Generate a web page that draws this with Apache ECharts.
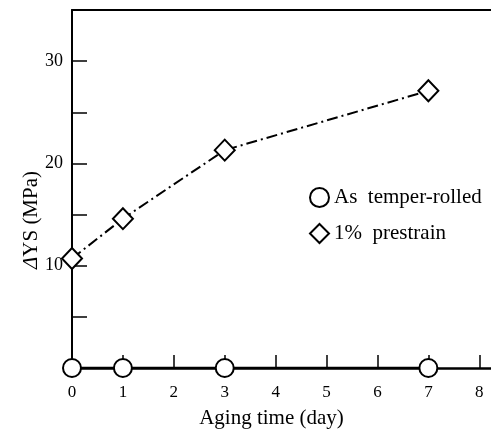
<!DOCTYPE html>
<html>
<head>
<meta charset="utf-8">
<script src="https://cdn.jsdelivr.net/npm/echarts@6/dist/echarts.min.js"></script>
<style>
  html, body { margin: 0; padding: 0; background: #fff; }
  #main { width: 491px; height: 432px; }
</style>
</head>
<body>
<div id="main"></div>
<script>
// data
var days = [0, 1, 3, 7];
var temperRolled = [0, 0, 0, 0];
var prestrain = [10.7, 14.6, 21.3, 27.1];
var xTicks = [0, 1, 2, 3, 4, 5, 6, 7, 8];
var yTicks = [5, 10, 15, 20, 25, 30];
var yLabels = [10, 20, 30];

var serif = 'Liberation Serif, DejaVu Serif, serif';

function pairs(xs, ys) {
  var out = [];
  for (var i = 0; i < xs.length; i++) out.push([xs[i], ys[i]]);
  return out;
}

var chart = echarts.init(document.getElementById('main'));
var option = {
  backgroundColor: '#fff',
  animation: false,
  textStyle: { fontFamily: serif, color: '#000' },
  grid: { left: 72, top: 10, right: 0, bottom: 64, outerBoundsMode: 'none' },
  legend: {
    orient: 'vertical',
    left: 304,
    top: 182,
    itemWidth: 19,
    itemHeight: 19,
    itemGap: 15,
    textStyle: { fontFamily: serif, fontSize: 21, color: '#000' },
    data: [
      { name: 'As  temper-rolled', icon: 'circle' },
      { name: '1%  prestrain', icon: 'diamond' }
    ]
  },
  xAxis: [{
    type: 'value',
    min: 0,
    max: 8.23,
    name: 'Aging time (day)',
    nameLocation: 'middle',
    nameGap: 40,
    nameMoveOverlap: false,
    nameTextStyle: { fontFamily: serif, fontSize: 21, color: '#000', padding: [0, 20, 0, 0] },
    axisLine: { lineStyle: { color: '#000', width: 2.5 } },
    axisTick: { inside: true, length: 13, customValues: xTicks, lineStyle: { color: '#000', width: 1.5 } },
    axisLabel: { customValues: xTicks, margin: 16, fontSize: 17, color: '#000', fontFamily: serif },
    splitLine: { show: false }
  }, {
    type: 'value',
    position: 'top',
    min: 0,
    max: 8.23,
    axisLine: { show: true, onZero: false, lineStyle: { color: '#000', width: 2 } },
    axisTick: { show: false },
    axisLabel: { show: false },
    splitLine: { show: false }
  }],
  yAxis: {
    type: 'value',
    min: 0,
    max: 35,
    interval: 5,
    name: '{i|Δ}YS (MPa)',
    nameLocation: 'middle',
    nameGap: 30,
    nameRotate: 90,
    nameMoveOverlap: false,
    nameTextStyle: {
      fontFamily: serif, fontSize: 21, color: '#000', padding: [0, 62, 0, 0],
      rich: { i: { fontFamily: serif, fontSize: 21, fontStyle: 'italic', color: '#000' } }
    },
    axisLine: { show: true, lineStyle: { color: '#000', width: 2 } },
    axisTick: { inside: true, length: 15, customValues: yTicks, lineStyle: { color: '#000', width: 1.5 } },
    axisLabel: { customValues: yLabels, margin: 9, fontSize: 18, color: '#000', fontFamily: serif },
    splitLine: { show: false }
  },
  series: [{
    name: 'As  temper-rolled',
    type: 'line',
    data: pairs(days, temperRolled),
    symbol: 'circle',
    symbolSize: 18,
    lineStyle: { color: '#000', width: 2.5 },
    itemStyle: { color: '#fff', borderColor: '#000', borderWidth: 2 },
    z: 3
  }, {
    name: '1%  prestrain',
    type: 'line',
    data: pairs(days, prestrain),
    symbol: 'diamond',
    symbolSize: [20, 21],
    lineStyle: { color: '#000', width: 2, type: [11, 4, 2, 4] },
    itemStyle: { color: '#fff', borderColor: '#000', borderWidth: 2 },
    z: 3
  }]
};
chart.setOption(option);
</script>
</body>
</html>
